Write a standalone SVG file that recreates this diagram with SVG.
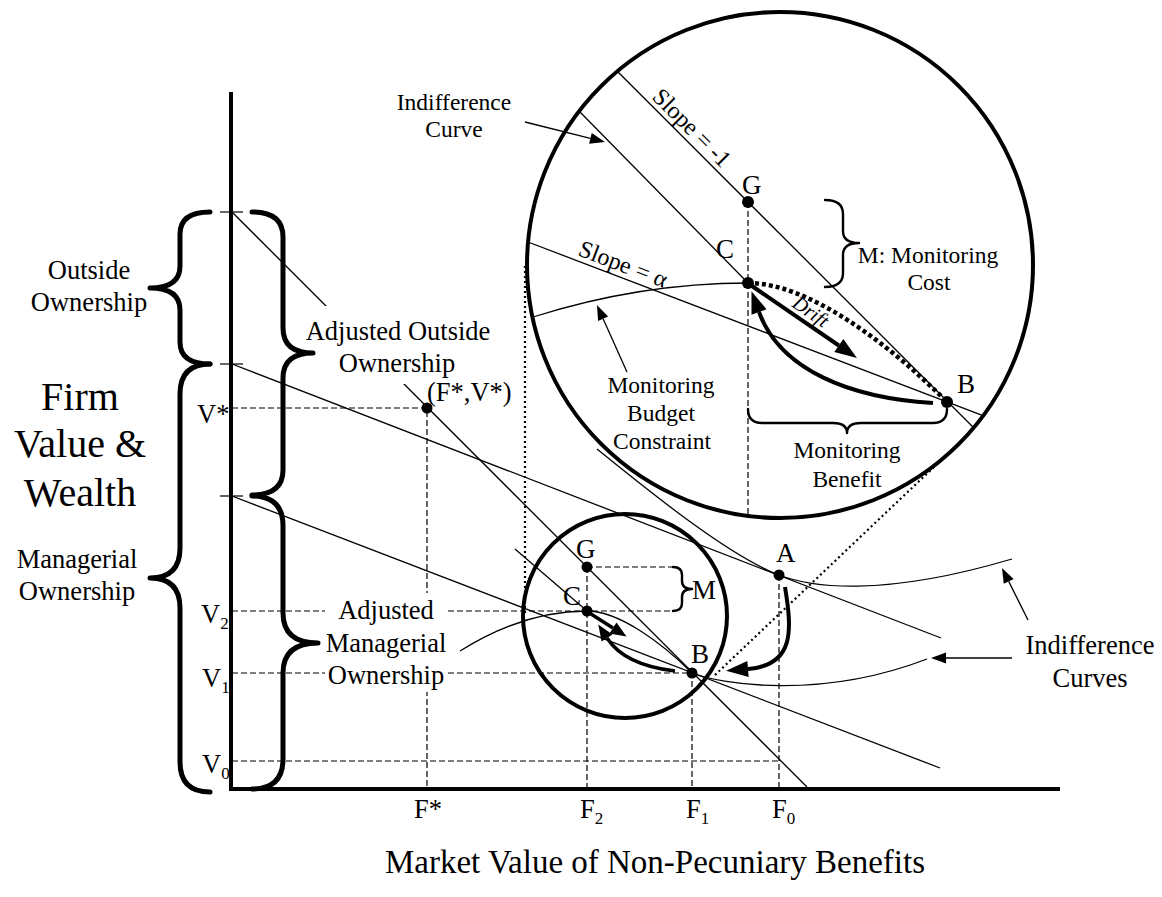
<svg xmlns="http://www.w3.org/2000/svg" width="1162" height="897" viewBox="0 0 1162 897">
  <defs>
    <style>
      .axis{stroke:#000;stroke-width:4;fill:none}
      .tick{stroke:#000;stroke-width:1.2;fill:none}
      .ln{stroke:#000;stroke-width:1.3;fill:none}
      .dash{stroke:#000;stroke-width:1.2;stroke-dasharray:6 3;fill:none}
      .dotl{stroke:#000;stroke-width:2.2;stroke-dasharray:2 3;fill:none}
      .thickdot{stroke:#000;stroke-width:4.5;stroke-dasharray:4 3;fill:none}
      .ring{stroke:#000;stroke-width:4;fill:none}
      .brace{stroke:#000;stroke-width:5;fill:none;stroke-linecap:round;stroke-linejoin:round}
      .brace-s{stroke:#000;stroke-width:2.4;fill:none;stroke-linecap:round;stroke-linejoin:round}
      .thick{stroke:#000;stroke-width:4;fill:none}
      .thick-s{stroke:#000;stroke-width:3.5;fill:none}
      .pt{fill:#000}
      .mask{fill:#fff;stroke:none}
      text{font-family:"Liberation Serif","Times New Roman",serif;fill:#000}
      .big{font-size:40px}
      .title{font-size:33px}
      .lab{font-size:26.5px}
      .sm{font-size:23.5px}
      .ltr{font-size:27px}
      .sub{font-size:17px}
      .slope{font-size:24px}
      .drift{font-size:20px;font-style:italic}
      .mid{text-anchor:middle}
    </style>
    <marker id="headL" markerUnits="userSpaceOnUse" markerWidth="30" markerHeight="30" refX="0" refY="0" orient="auto" overflow="visible">
      <path d="M0,-8 L22,0 L0,8 z" fill="#000"/>
    </marker>
    <marker id="headS" markerUnits="userSpaceOnUse" markerWidth="30" markerHeight="30" refX="0" refY="0" orient="auto" overflow="visible">
      <path d="M0,-6.5 L16,0 L0,6.5 z" fill="#000"/>
    </marker>
    <marker id="headT" markerUnits="userSpaceOnUse" markerWidth="30" markerHeight="30" refX="0" refY="0" orient="auto" overflow="visible">
      <path d="M0,-5.5 L15,0 L0,5.5 z" fill="#000"/>
    </marker>
  </defs>

  <rect width="1162" height="897" fill="#fff"/>

  <!-- axes and ticks -->
  <g id="axes">
    <line class="axis" x1="231" y1="92" x2="231" y2="791"/>
    <line class="axis" x1="229" y1="789" x2="1060" y2="789"/>
    <line class="tick" x1="220" y1="212" x2="243" y2="212"/>
    <line class="tick" x1="220" y1="364" x2="243" y2="364"/>
    <line class="tick" x1="220" y1="496" x2="243" y2="496"/>
  </g>

  <!-- guide lines, budget lines and indifference curves -->
  <g id="connectors">
    <!-- dashed projections -->
    <path class="dash" d="M232,408 H427 V789"/>
    <path class="dash" d="M232,611 H673"/>
    <path class="dash" d="M587,567 H673"/>
    <path class="dash" d="M587,567 V789"/>
    <path class="dash" d="M232,673 H692 V789"/>
    <path class="dash" d="M779,575 V789"/>
    <path class="dash" d="M232,761 H779"/>

    <!-- budget lines -->
    <line class="ln" x1="232" y1="212" x2="807" y2="787"/>
    <line class="ln" x1="232" y1="364" x2="941" y2="638"/>
    <line class="ln" x1="232" y1="496" x2="940" y2="768"/>

    <!-- indifference curve through A -->
    <path class="ln" d="M597,449 C650,492 729,556 779,575 C810,587 880,598 1012,559"/>
    <!-- indifference curve through B -->
    <path class="ln" d="M692,673 C722,684.5 820,700 927,659"/>
    <!-- indifference curve through C -->
    <line class="ln" x1="515" y1="549" x2="587" y2="611"/>
    <!-- monitoring budget constraint -->
    <path class="ln" d="M460,651 Q523.5,611 587,611 C619,611 662,643 692,673"/>

    <!-- label boxes keep lines out of the text -->
    <rect class="mask" x="300" y="306" width="196" height="78"/>
    <rect class="mask" x="325" y="593" width="122" height="99"/>

    <!-- magnifier outlines and tangents -->
    <circle class="ring" cx="625" cy="616" r="102"/>
    <circle class="ring" cx="780" cy="265" r="253"/>
    <line class="dotl" x1="525" y1="266" x2="525" y2="613"/>
    <line class="dotl" x1="715" y1="675" x2="954" y2="448"/>

    <!-- magnified view -->
    <line class="ln" x1="617.3" y1="71.3" x2="973.7" y2="427.7"/>
    <line class="ln" x1="528" y1="242" x2="983" y2="415.6"/>
    <line class="ln" x1="580" y1="112" x2="748" y2="283"/>
    <path class="ln" d="M533,317 Q640.5,283 748,283"/>
    <path class="thickdot" d="M748,283 C808,283 887,342 947,402"/>
    <path class="dash" d="M748,202 V516"/>

    <!-- movement arrows -->
    <path class="thick" d="M752,286 L838.8,345.5" marker-end="url(#headL)"/>
    <path class="thick" d="M933,403 C850,398 780,370 759,312" marker-end="url(#headL)"/>
    <path class="thick-s" d="M591,614 L613,628" marker-end="url(#headS)"/>
    <path class="thick-s" d="M675,671 C640,667 618,655 607,638" marker-end="url(#headS)"/>
    <path class="thick" d="M785,587 C792,630 795,665 748,669" marker-end="url(#headL)"/>

    <!-- label pointers -->
    <path class="ln" d="M525,122 L590.4,138.4" marker-end="url(#headT)"/>
    <path class="ln" d="M627,372 L603.1,318.7" marker-end="url(#headT)"/>
    <path class="ln" d="M1028,620 L1008.7,581.4" marker-end="url(#headT)"/>
    <path class="ln" d="M1012,658 L946,658" marker-end="url(#headT)"/>
  </g>

  <!-- braces -->
  <g id="braces">
    <path class="brace" d="M210,212 Q180,212 180,234 L180,266 Q180,288 150,288 Q180,288 180,310 L180,342 Q180,364 210,364"/>
    <path class="brace" d="M252,212 Q283,212 283,237 L283,328 Q283,353 313,353 Q283,353 283,378 L283,470 Q283,495 252,495"/>
    <path class="brace" d="M210,364 Q180,364 180,394 L180,548 Q180,578 150,578 Q180,578 180,608 L180,762 Q180,792 210,792"/>
    <path class="brace" d="M252,496 Q283,496 283,526 L283,613 Q283,643 318,643 Q283,643 283,673 L283,759 Q283,789 252,789"/>
    <path class="brace-s" d="M673,567 Q682,567 682,575 L682,581 Q682,589 692,589 Q682,589 682,597 L682,603 Q682,611 673,611"/>
    <path class="brace-s" d="M825,200 Q843,200 843,214 L843,231 Q843,243 859,243 Q843,243 843,255 L843,273 Q843,287 825,287"/>
    <path class="brace-s" d="M748,409 Q748,423 762,423 L833,423 Q847,423 847,433 Q847,423 861,423 L933,423 Q947,423 947,409"/>
  </g>

  <!-- points -->
  <g id="point-FV"><circle class="pt" cx="427" cy="408" r="5.5"/><text class="lab" x="427" y="401">(F*,V*)</text></g>
  <g id="point-A"><circle class="pt" cx="779" cy="575" r="5.5"/><text class="ltr" x="776" y="562">A</text></g>
  <g id="point-B"><circle class="pt" cx="692" cy="673" r="5.5"/><text class="ltr" x="691" y="663">B</text></g>
  <g id="point-C"><circle class="pt" cx="587" cy="611" r="5.5"/><text class="ltr" x="563" y="605">C</text></g>
  <g id="point-G"><circle class="pt" cx="587" cy="567" r="5.5"/><text class="ltr" x="576" y="558">G</text></g>
  <g id="label-M"><text class="ltr" x="692" y="599">M</text></g>
  <g id="zoom-B"><circle class="pt" cx="947" cy="402" r="6"/><text class="ltr" x="957" y="393">B</text></g>
  <g id="zoom-C"><circle class="pt" cx="748" cy="283" r="6"/><text class="ltr" x="716" y="258">C</text></g>
  <g id="zoom-G"><circle class="pt" cx="748" cy="202" r="6"/><text class="ltr" x="742" y="194">G</text></g>

  <!-- axis labels -->
  <g id="y-labels" class="lab">
    <text x="197" y="423">V*</text>
    <text x="201" y="623">V<tspan class="sub" dy="6">2</tspan></text>
    <text x="202" y="687">V<tspan class="sub" dy="6">1</tspan></text>
    <text x="202" y="773">V<tspan class="sub" dy="6">0</tspan></text>
  </g>
  <g id="x-labels" class="lab">
    <text x="414" y="818">F*</text>
    <text x="580" y="818">F<tspan class="sub" dy="6">2</tspan></text>
    <text x="686" y="818">F<tspan class="sub" dy="6">1</tspan></text>
    <text x="772" y="818">F<tspan class="sub" dy="6">0</tspan></text>
  </g>

  <g id="y-title" class="big mid">
    <text x="80" y="410">Firm</text>
    <text x="80" y="457">Value &amp;</text>
    <text x="80" y="506">Wealth</text>
  </g>
  <g id="x-title"><text class="title mid" x="655" y="873">Market Value of Non-Pecuniary Benefits</text></g>

  <g id="outside-ownership" class="lab mid">
    <text x="89" y="279">Outside</text>
    <text x="89" y="311">Ownership</text>
  </g>
  <g id="managerial-ownership" class="lab mid">
    <text x="77" y="568">Managerial</text>
    <text x="77" y="600">Ownership</text>
  </g>
  <g id="adjusted-outside" class="lab mid">
    <text x="398" y="340">Adjusted Outside</text>
    <text x="397" y="372">Ownership</text>
  </g>
  <g id="adjusted-managerial" class="lab mid">
    <text x="386" y="619">Adjusted</text>
    <text x="386" y="652">Managerial</text>
    <text x="386" y="684">Ownership</text>
  </g>
  <g id="indifference-curves" class="lab mid">
    <text x="1090" y="654">Indifference</text>
    <text x="1090" y="687">Curves</text>
  </g>

  <g id="zoom-labels" class="sm mid">
    <text x="454" y="110">Indifference</text>
    <text x="454" y="137">Curve</text>
    <text x="928" y="263">M: Monitoring</text>
    <text x="929" y="290">Cost</text>
    <text x="661" y="393">Monitoring</text>
    <text x="661" y="421">Budget</text>
    <text x="662" y="449">Constraint</text>
    <text x="847" y="458">Monitoring</text>
    <text x="847" y="487">Benefit</text>
  </g>
  <g id="slope-labels">
    <text class="slope" transform="translate(651,98) rotate(45)">Slope = -1</text>
    <text class="slope" transform="translate(577,255) rotate(20.9)">Slope = α</text>
    <text class="drift" transform="translate(791,306) rotate(34.5)">Drift</text>
  </g>
</svg>
